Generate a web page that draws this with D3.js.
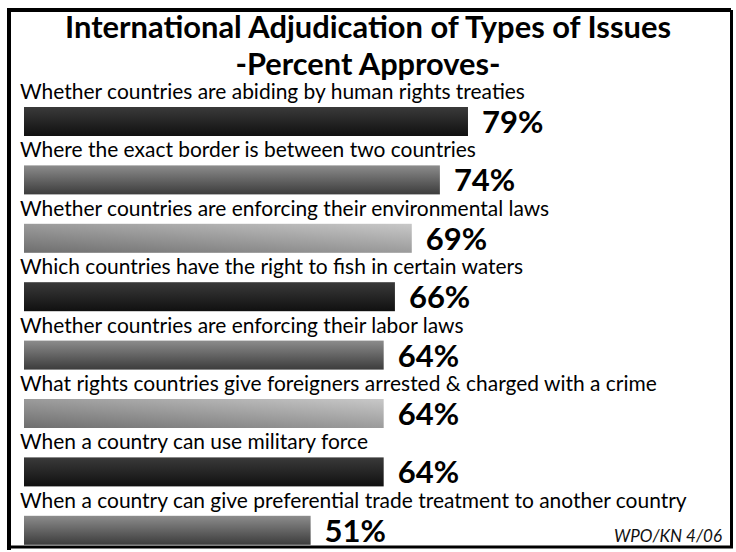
<!DOCTYPE html>
<html>
<head>
<meta charset="utf-8">
<script src="https://cdn.jsdelivr.net/npm/d3@7"></script>
<style>
  html, body { margin: 0; padding: 0; background: #fff; }
  svg { display: block; }
</style>
</head>
<body>
<svg id="chart" width="736" height="552"></svg>
<script>
// Survey items, in the order they are listed
const categories = [
  "Whether countries are abiding by human rights treaties",
  "Where the exact border is between two countries",
  "Whether countries are enforcing their environmental laws",
  "Which countries have the right to fish in certain waters",
  "Whether countries are enforcing their labor laws",
  "What rights countries give foreigners arrested & charged with a crime",
  "When a country can use military force",
  "When a country can give preferential trade treatment to another country"
];
// Percent who approve of international adjudication
const values = [79, 74, 69, 66, 64, 64, 64, 51];
const titleLines = ["International Adjudication of Types of Issues", "-Percent Approves-"];
const sourceNote = "WPO/KN 4/06";

const W = 736, H = 552;
const svg = d3.select("#chart");
const font = "Lato, 'Open Sans', sans-serif";

// Bar fills cycle: dark, medium, light
const defs = svg.append("defs");
const dark = defs.append("linearGradient").attr("id", "g-dark")
  .attr("x1", 0).attr("y1", 0).attr("x2", 0).attr("y2", 1);
dark.append("stop").attr("offset", "0%").attr("stop-color", "#3a3a3a");
dark.append("stop").attr("offset", "100%").attr("stop-color", "#101010");
const mid = defs.append("linearGradient").attr("id", "g-mid")
  .attr("x1", 0).attr("y1", 0).attr("x2", 0).attr("y2", 1);
mid.append("stop").attr("offset", "0%").attr("stop-color", "#8c8c8c");
mid.append("stop").attr("offset", "100%").attr("stop-color", "#3c3c3c");
const light = defs.append("linearGradient").attr("id", "g-light")
  .attr("x1", 0).attr("y1", 1).attr("x2", 1).attr("y2", 0);
light.append("stop").attr("offset", "0%").attr("stop-color", "#6e6e6e");
light.append("stop").attr("offset", "100%").attr("stop-color", "#c8c8c8");
const fills = ["url(#g-dark)", "url(#g-mid)", "url(#g-light)"];

// Frame
svg.append("path")
  .attr("d", "M9,550 L9,10 L731,10")
  .attr("fill", "none").attr("stroke", "#000").attr("stroke-width", 4);
svg.append("path")
  .attr("d", "M9,547 L731.5,547 L731.5,10")
  .attr("fill", "none").attr("stroke", "#000").attr("stroke-width", 3);

// Title
svg.append("text")
  .attr("x", W / 2).attr("y", 38)
  .attr("text-anchor", "middle")
  .attr("font-family", font).attr("font-weight", 700).attr("font-size", 31)
  .attr("textLength", 606).attr("lengthAdjust", "spacingAndGlyphs")
  .text(titleLines[0]);
svg.append("text")
  .attr("x", W / 2).attr("y", 75)
  .attr("text-anchor", "middle")
  .attr("font-family", font).attr("font-weight", 700).attr("font-size", 30)
  .attr("textLength", 265).attr("lengthAdjust", "spacingAndGlyphs")
  .text(titleLines[1]);

// Scales
const x = d3.scaleLinear().domain([0, 100]).range([24, 586]);
const y = d3.scaleBand().domain(categories).range([78, 78 + 8 * 58.4]).paddingInner(0);
const barTop = 29, barH = 29;

const rows = svg.append("g").selectAll("g")
  .data(categories.map((c, i) => ({ c, v: values[i], i })))
  .join("g")
  .attr("transform", d => `translate(0,${y(d.c)})`);

const labels = rows.append("text")
  .attr("x", 20).attr("y", 21)
  .attr("font-family", font).attr("font-size", 20)
  .attr("fill", "#000")
  .text(d => d.c);

// Fit the item labels so the longest one spans the frame width
const longest = d3.max(labels.nodes(), n => n.getComputedTextLength());
const fs = 20 * 667 / longest;
labels.attr("font-size", fs);

rows.append("rect")
  .attr("x", x(0))
  .attr("y", barTop)
  .attr("width", d => x(d.v) - x(0))
  .attr("height", barH)
  .attr("fill", d => fills[d.i % 3]);

rows.append("text")
  .attr("x", d => x(d.v) + 14)
  .attr("y", barTop + 26)
  .attr("font-family", font).attr("font-weight", 700).attr("font-size", 31)
  .attr("fill", "#000")
  .text(d => d.v + "%");

// Source note
svg.append("text")
  .attr("x", 722).attr("y", 542)
  .attr("text-anchor", "end")
  .attr("font-family", font).attr("font-style", "italic").attr("font-size", 17)
  .attr("fill", "#111")
  .text(sourceNote);
</script>
</body>
</html>
